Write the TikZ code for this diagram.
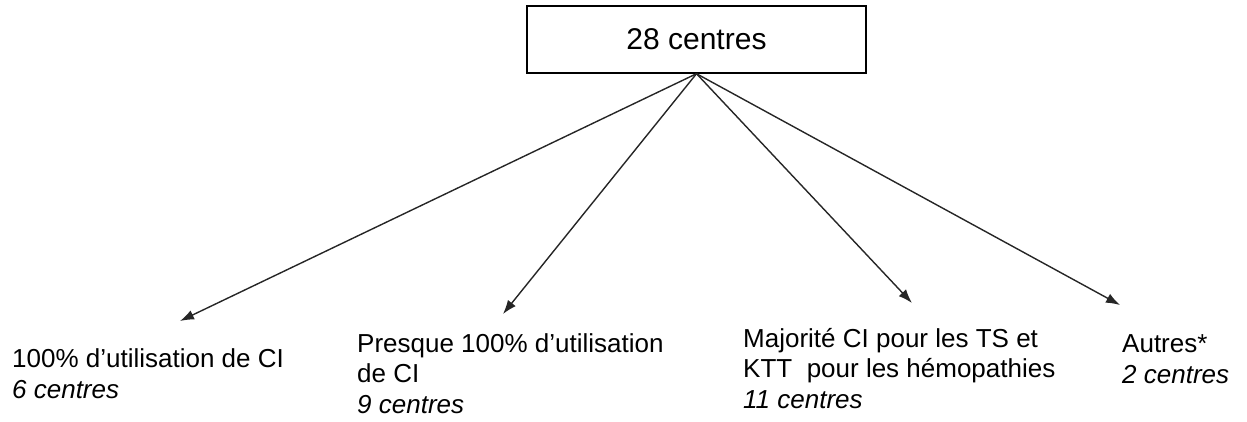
\documentclass[tikz,border=0pt]{standalone}
\usepackage{fontspec}
\setmainfont{Liberation Sans}
\usetikzlibrary{arrows.meta,positioning}

\begin{document}
\begin{tikzpicture}[x=1pt,y=-1pt,
	  every node/.style={align=left,text=black,inner sep=0pt},
	  total/.style={draw,line width=1.4pt,minimum width=339pt,minimum height=67pt,font=\fontsize{30}{36}\selectfont,align=center},
	  group/.style={anchor=base west,font=\fontsize{26}{30.5}\selectfont},
	  to/.style={-{Latex[length=14pt,width=10pt]},line width=1.4pt,draw=black!85}]

	  \useasboundingbox (0,0) rectangle (1247,421);

	  % Top box and the four groups of centres
	  \node[total] (total) at (696.5,39.5) {28 centres};
	  \node[group] (full) at (12,398) {100\% d'utilisation de CI\\\textit{6 centres}};
	  \node[group] (almost) at (357,413) {Presque 100\% d'utilisation\\de CI\\\textit{9 centres}};
	  \node[group] (mostly) at (743,408) {Majorité CI pour les TS et\\KTT\ \ pour les hémopathies\\\textit{11 centres}};
	  \node[group] (others) at (1122,383) {Autres*\\\textit{2 centres}};

	  % Arrow ends above the groups
	  \coordinate (fullend) at (180,321);
	  \coordinate (almostend) at (503,314);
	  \coordinate (mostlyend) at (912,303);
	  \coordinate (othersend) at (1120,305);

	  \draw[to] (total.south) -- (fullend);
	  \draw[to] (total.south) -- (almostend);
	  \draw[to] (total.south) -- (mostlyend);
	  \draw[to] (total.south) -- (othersend);

\end{tikzpicture}
\end{document}
